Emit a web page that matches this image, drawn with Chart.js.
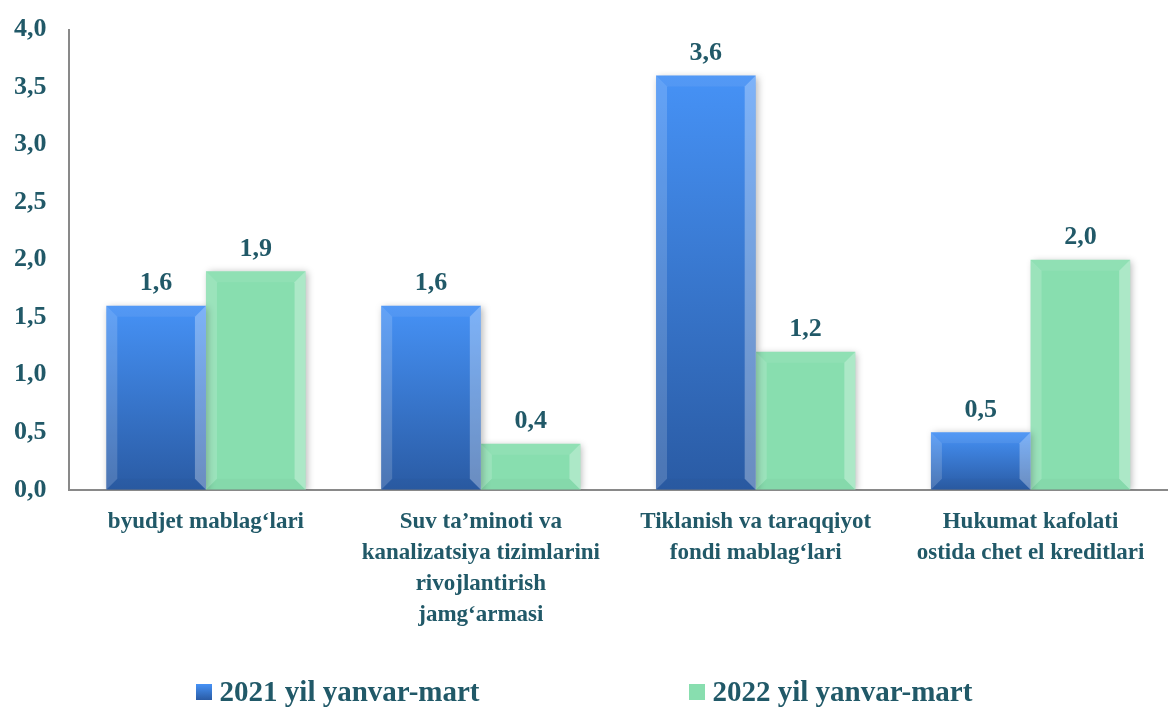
<!DOCTYPE html>
<html lang="uz">
<head>
    <meta charset="UTF-8">
    <title>Manbalar bo'yicha</title>
    <style>
        body {
            margin: 0;
            background: #ffffff;
            font-family: "Liberation Serif", "Times New Roman", serif;
        }
        #wrap {
            position: relative;
            width: 1168px;
            height: 708px;
        }
        #legend {
            position: absolute;
            left: 0;
            top: 675px;
            width: 1168px;
            display: flex;
            justify-content: center;
            gap: 209px;
            font-weight: bold;
            font-size: 29px;
            color: #215968;
        }
        .item { display: flex; align-items: center; }
        .box { width: 16px; height: 16px; margin-right: 8px; }
    </style>
</head>
<body>
<div id="wrap">
    <canvas id="chart" width="1168" height="708"></canvas>
    <div id="legend"></div>
</div>

<script src="https://cdn.jsdelivr.net/npm/chart.js"></script>
<script>
    const categories = [
        'byudjet mablag‘lari',
        ['Suv ta’minoti va', 'kanalizatsiya tizimlarini', 'rivojlantirish', 'jamg‘armasi'],
        ['Tiklanish va taraqqiyot', 'fondi mablag‘lari'],
        ['Hukumat kafolati', 'ostida chet el kreditlari']
    ];
    const seriesNames = ['2021 yil yanvar-mart', '2022 yil yanvar-mart'];
    const values2021 = [1.6, 1.6, 3.6, 0.5];
    const values2022 = [1.9, 0.4, 1.2, 2.0];
    const yTicks = [0, 0.5, 1, 1.5, 2, 2.5, 3, 3.5, 4];

    const textColor = '#215968';
    const axisColor = '#898989';
    const fontFamily = '"Liberation Serif", "Times New Roman", serif';

    const fmt = v => v.toFixed(1).replace('.', ',');

    // gradient per bar (light top -> dark bottom)
    function blueFill(ctx) {
        const chart = ctx.chart;
        if (!chart.chartArea) return '#3a78d0';
        const y = chart.scales.y;
        const top = y.getPixelForValue(ctx.raw);
        const bot = y.getPixelForValue(0);
        const g = chart.ctx.createLinearGradient(0, top, 0, bot);
        g.addColorStop(0, '#4692f6');
        g.addColorStop(1, '#2a5ba4');
        return g;
    }

    // bevel look on the bars
    const bevel = {
        id: 'bevel',
        beforeDatasetsDraw(chart) {
            const c = chart.ctx;
            c.save();
            c.shadowColor = 'rgba(0,0,0,0.28)';
            c.shadowBlur = 7;
            c.shadowOffsetX = 2;
            c.shadowOffsetY = 1;
        },
        afterDatasetsDraw(chart) {
            const c = chart.ctx;
            c.restore();
            c.save();
            chart.data.datasets.forEach((ds, di) => {
                chart.getDatasetMeta(di).data.forEach(bar => {
                    const l = bar.x - bar.width / 2, r = bar.x + bar.width / 2;
                    const t = bar.y, b = bar.base;
                    const w = Math.min(11, (b - t) / 2);
                    const poly = (pts, col) => {
                        c.beginPath();
                        c.moveTo(pts[0][0], pts[0][1]);
                        pts.slice(1).forEach(p => c.lineTo(p[0], p[1]));
                        c.closePath();
                        c.fillStyle = col;
                        c.fill();
                    };
                    poly([[l, t], [r, t], [r - w, t + w], [l + w, t + w]], 'rgba(255,255,255,0.07)');
                    poly([[l, t], [l + w, t + w], [l + w, b - w], [l, b]], 'rgba(255,255,255,0.16)');
                    poly([[r, t], [r, b], [r - w, b - w], [r - w, t + w]], 'rgba(255,255,255,0.3)');
                    poly([[l, b], [l + w, b - w], [r - w, b - w], [r, b]], 'rgba(0,0,0,0.02)');
                });
            });
            // value labels
            c.fillStyle = textColor;
            c.font = 'bold 26px ' + fontFamily;
            c.textAlign = 'center';
            c.textBaseline = 'bottom';
            chart.data.datasets.forEach((ds, di) => {
                chart.getDatasetMeta(di).data.forEach((bar, i) => {
                    c.fillText(fmt(ds.data[i]), bar.x, bar.y - 9);
                });
            });
            c.restore();
        }
    };

    const chart = new Chart(document.getElementById('chart'), {
        type: 'bar',
        data: {
            labels: categories,
            datasets: [
                { label: seriesNames[0], data: values2021, backgroundColor: blueFill },
                { label: seriesNames[1], data: values2022, backgroundColor: '#88deaf' }
            ]
        },
        options: {
            responsive: false,
            animation: false,
            events: [],
            layout: { padding: { top: 0, left: 0, right: 0, bottom: 68 } },
            datasets: { bar: { categoryPercentage: 0.725, barPercentage: 1 } },
            plugins: {
                legend: { display: false },
                tooltip: { enabled: false }
            },
            scales: {
                x: {
                    grid: { display: false },
                    border: { display: true, color: axisColor, width: 2 },
                    ticks: {
                        color: textColor,
                        padding: 9,
                        maxRotation: 0,
                        font: { family: fontFamily, size: 23, weight: 'bold', lineHeight: 1.35 }
                    }
                },
                y: {
                    min: 0,
                    max: 4,
                    grid: { display: false },
                    border: { display: true, color: axisColor, width: 2 },
                    afterBuildTicks(axis) {
                        axis.ticks = yTicks.map(v => ({ value: v }));
                    },
                    ticks: {
                        color: textColor,
                        padding: 14,
                        font: { family: fontFamily, size: 26, weight: 'bold' },
                        callback: v => fmt(v)
                    }
                }
            }
        },
        plugins: [bevel]
    });

    // legend below the chart
    const legend = document.getElementById('legend');
    const boxStyles = [
        'linear-gradient(#4692f6, #2a5ba4)',
        '#88deaf'
    ];
    seriesNames.forEach((name, i) => {
        const item = document.createElement('div');
        item.className = 'item';
        const box = document.createElement('span');
        box.className = 'box';
        box.style.background = boxStyles[i];
        const txt = document.createElement('span');
        txt.textContent = name;
        item.appendChild(box);
        item.appendChild(txt);
        legend.appendChild(item);
    });
</script>
</body>
</html>
